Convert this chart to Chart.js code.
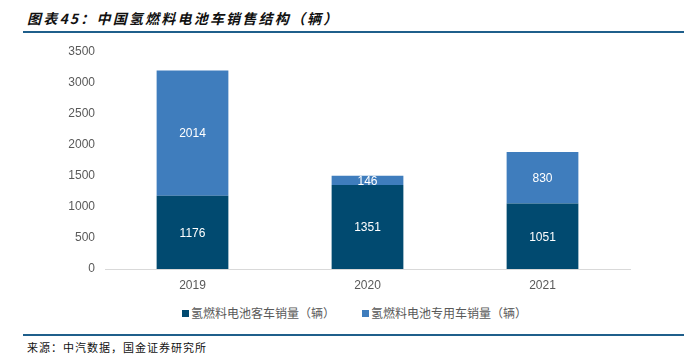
<!DOCTYPE html>
<html><head><meta charset="utf-8">
<script src="https://cdn.jsdelivr.net/npm/chart.js@4/dist/chart.umd.min.js"></script>
<style>
html,body{margin:0;padding:0;background:#fff;width:696px;height:357px;overflow:hidden;position:relative;font-family:"Liberation Sans",Arial,sans-serif;}
#title{position:absolute;left:27px;top:9px;font-family:"Noto Sans CJK SC",sans-serif;font-size:14px;font-weight:bold;font-style:italic;letter-spacing:2.2px;color:#111;white-space:nowrap;line-height:18px;}
.rule{position:absolute;left:23px;width:661px;height:2px;background:#1f5f8b;}
#src{position:absolute;left:27px;top:339px;font-family:"Noto Sans CJK SC",serif;font-size:11px;letter-spacing:1px;color:#111;white-space:nowrap;line-height:16px;}
#wrap{position:absolute;left:0;top:34px;width:696px;height:261px;}
#legend{position:absolute;top:304px;left:0;width:696px;font-family:"Noto Sans CJK SC",sans-serif;font-size:12px;color:#595959;white-space:nowrap;}
.li{position:absolute;top:0;line-height:18px;}
.sw{position:absolute;left:-9px;top:6px;width:7px;height:7px;}
</style></head>
<body>
<div id="title">图表45：中国氢燃料电池车销售结构（辆）</div>
<div class="rule" style="top:31px"></div>
<div id="wrap"><canvas id="c" width="696" height="261"></canvas></div>
<div id="legend"></div>
<div class="rule" style="top:334px"></div>
<div id="src">来源：中汽数据，国金证券研究所</div>
<script>
const categories = ["2019", "2020", "2021"];
const busSales = [1176, 1351, 1051];
const specialSales = [2014, 146, 830];
const seriesNames = ["氢燃料电池客车销量（辆）", "氢燃料电池专用车销量（辆）"];
const yTicks = [0, 500, 1000, 1500, 2000, 2500, 3000, 3500];
const colors = ["#014a70", "#3f7dbd"];

const lg = document.getElementById('legend');
const legendX = [191, 371];
seriesNames.forEach((n, i) => {
  const d = document.createElement('div');
  d.className = 'li';
  d.style.left = legendX[i] + 'px';
  d.innerHTML = '<span class="sw" style="background:' + colors[i] + '"></span>' + n;
  lg.appendChild(d);
});

const labelPlugin = {
  id: 'barLabels',
  afterDatasetsDraw(chart) {
    const ctx = chart.ctx;
    ctx.save();
    ctx.fillStyle = '#ffffff';
    ctx.font = '12px "Liberation Sans", Arial, sans-serif';
    ctx.textAlign = 'center';
    ctx.textBaseline = 'middle';
    chart.data.datasets.forEach((ds, di) => {
      chart.getDatasetMeta(di).data.forEach((bar, i) => {
        const p = bar.getProps(['x', 'y', 'base'], true);
        ctx.fillText(String(ds.data[i]), p.x, (p.y + p.base) / 2 + 1);
      });
    });
    ctx.restore();
  }
};

new Chart(document.getElementById('c'), {
  type: 'bar',
  data: {
    labels: categories,
    datasets: [
      { label: seriesNames[0], data: busSales, backgroundColor: colors[0], categoryPercentage: 1, barPercentage: 0.41 },
      { label: seriesNames[1], data: specialSales, backgroundColor: colors[1], categoryPercentage: 1, barPercentage: 0.41 }
    ]
  },
  options: {
    responsive: false,
    animation: false,
    devicePixelRatio: 1,
    layout: { padding: { left: 0, right: 66, top: 11, bottom: 0 } },
    plugins: { legend: { display: false }, tooltip: { enabled: false } },
    scales: {
      x: {
        stacked: true,
        grid: { display: false, drawTicks: false },
        border: { display: true, color: '#d9d9d9', width: 1 },
        ticks: { color: '#595959', font: { size: 12, family: '"Liberation Sans", Arial, sans-serif' }, padding: 9 },
        afterFit(s) { s.height = 26; }
      },
      y: {
        stacked: true,
        min: 0, max: 3500,
        afterBuildTicks(s) { s.ticks = yTicks.map(v => ({ value: v })); },
        grid: { display: false, drawTicks: false },
        border: { display: false },
        ticks: { color: '#595959', font: { size: 12, family: '"Liberation Sans", Arial, sans-serif' }, padding: 10, callback: v => String(v) },
        afterFit(s) { s.width = 105; }
      }
    }
  },
  plugins: [labelPlugin]
});
</script>
</body></html>
